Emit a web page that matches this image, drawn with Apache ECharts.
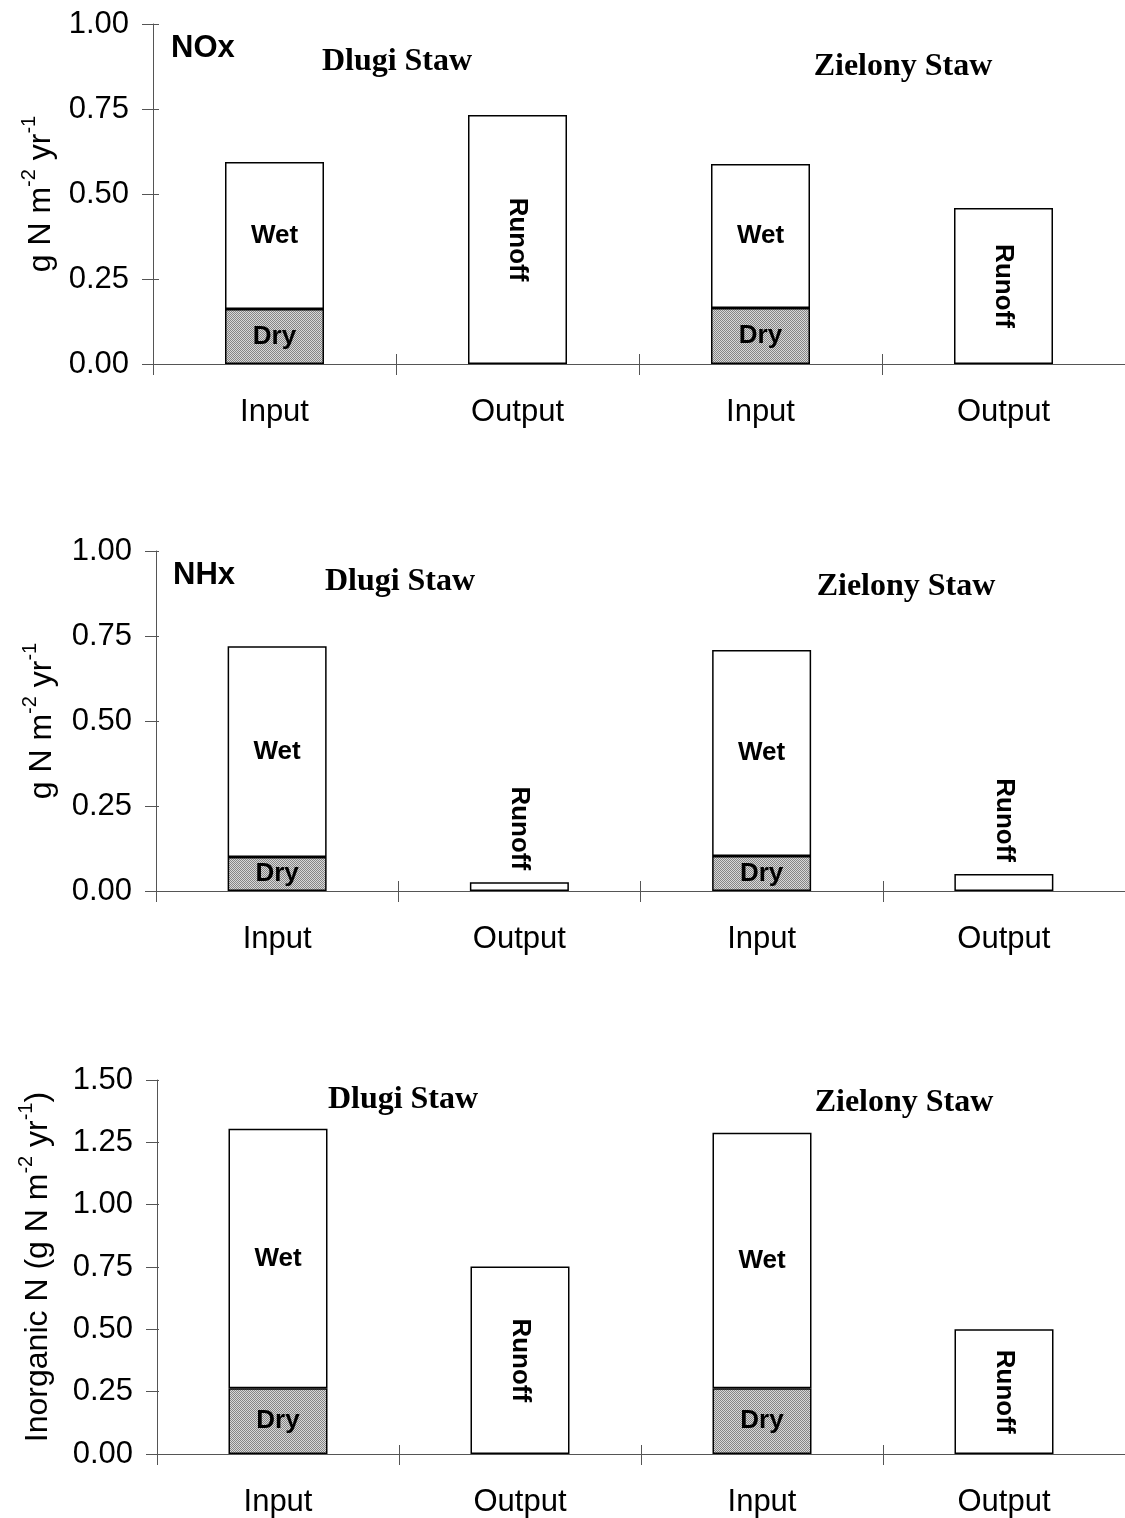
<!DOCTYPE html>
<html>
<head>
<meta charset="utf-8">
<script src="https://cdn.jsdelivr.net/npm/echarts@6/dist/echarts.min.js"></script>
<style>
  html, body { margin: 0; padding: 0; background: #fff; }
  #chart { width: 1125px; height: 1518px; }
</style>
</head>
<body>
<div id="chart"></div>
<script>
// categories on every panel
var categories = ['Input', 'Output', 'Input', 'Output'];

// NOx panel
var noxDry = [0.162, null, 0.165, null];
var noxWet = [0.432, null, 0.423, null];
var noxRunoff = [null, 0.732, null, 0.459];

// NHx panel
var nhxDry = [0.100, null, 0.103, null];
var nhxWet = [0.620, null, 0.606, null];
var nhxRunoff = [null, 0.026, null, 0.050];

// inorganic N panel
var inDry = [0.264, null, 0.264, null];
var inWet = [1.040, null, 1.024, null];
var inRunoff = [null, 0.752, null, 0.500];

var panelNames = ['NOx', 'NHx', ''];
var siteNames = ['Dlugi Staw', 'Zielony Staw'];

// stipple fill for the dry part
var stipple = document.createElement('canvas');
stipple.width = 2; stipple.height = 2;
var sctx = stipple.getContext('2d');
sctx.fillStyle = '#d8d8d8'; sctx.fillRect(0, 0, 2, 2);
sctx.fillStyle = '#858585'; sctx.fillRect(0, 0, 1, 1); sctx.fillRect(1, 1, 1, 1);

var grids = [
  { left: 153, top: 24, width: 976, height: 340 },
  { left: 156, top: 551, width: 976, height: 340 },
  { left: 157, top: 1080, width: 976, height: 375 }
];
var yMax = [1, 1, 1.5];
var yNames = [
  '{n|g N m}{s|-2}{n| yr}{s|-1}',
  '{n|g N m}{s|-2}{n| yr}{s|-1}',
  '{n|Inorganic N (g N m}{s|-2}{n| yr}{s|-1}{n|)}'
];
var nameGaps = [96, 98, 103];

var axisColor = '#555';
var tickFont = { fontFamily: 'Liberation Sans', fontSize: 31, color: '#000' };

var xAxes = [], yAxes = [], series = [];
grids.forEach(function (g, i) {
  // main axes
  xAxes.push({
    type: 'category', gridIndex: i, data: categories, position: 'bottom',
    axisLine: { lineStyle: { color: axisColor, width: 1 } },
    axisTick: { show: true, length: 11, lineStyle: { color: axisColor } },
    axisLabel: Object.assign({ margin: 33 }, tickFont)
  });
  // top-side copy pulled down onto the baseline: its ticks point up, so they cross the line
  xAxes.push({
    type: 'category', gridIndex: i, data: categories, position: 'top', offset: -g.height,
    axisLine: { show: false },
    axisTick: { show: true, length: 10, lineStyle: { color: axisColor } },
    axisLabel: { show: false }
  });
  yAxes.push({
    type: 'value', gridIndex: i, min: 0, max: yMax[i], interval: 0.25, position: 'left',
    splitLine: { show: false },
    axisLine: { show: true, lineStyle: { color: axisColor, width: 1 } },
    axisTick: { show: true, length: 11, lineStyle: { color: axisColor } },
    axisLabel: Object.assign({ margin: 24, formatter: function (v) { return v.toFixed(2); } }, tickFont),
    name: yNames[i], nameLocation: 'middle', nameGap: nameGaps[i],
    nameTextStyle: {
      rich: {
        n: { fontFamily: 'Liberation Sans', fontSize: 32, lineHeight: 38, color: '#000', verticalAlign: 'bottom' },
        s: { fontFamily: 'Liberation Sans', fontSize: 20, lineHeight: 21, color: '#000', verticalAlign: 'top' }
      }
    }
  });
  // right-side copy pulled onto the left line: its ticks point right
  yAxes.push({
    type: 'value', gridIndex: i, min: 0, max: yMax[i], interval: 0.25, position: 'right', offset: -g.width,
    splitLine: { show: false }, axisLine: { show: false },
    axisTick: { show: true, length: 10, lineStyle: { color: axisColor } },
    axisLabel: { show: false }
  });
});

var panelData = [
  [noxDry, noxWet, noxRunoff],
  [nhxDry, nhxWet, nhxRunoff],
  [inDry, inWet, inRunoff]
];
var labelFont = { fontFamily: 'Liberation Sans', fontWeight: 'bold', fontSize: 26, color: '#000' };

panelData.forEach(function (d, i) {
  var common = {
    type: 'bar', xAxisIndex: i * 2, yAxisIndex: i * 2, stack: 'p' + i,
    barWidth: 99, animation: false
  };
  series.push(Object.assign({}, common, {
    name: 'Dry', data: d[0],
    itemStyle: { color: { image: stipple, repeat: 'repeat' }, borderColor: '#000', borderWidth: 1.5 },
    label: Object.assign({ show: true, position: 'inside', formatter: 'Dry' }, labelFont)
  }));
  series.push(Object.assign({}, common, {
    name: 'Wet', data: d[1],
    itemStyle: { color: '#fff', borderColor: '#000', borderWidth: 1.5 },
    label: Object.assign({ show: true, position: 'inside', formatter: 'Wet' }, labelFont)
  }));
  var runoffLabel = i === 1
    ? { show: true, position: 'top', distance: 12, rotate: -90, align: 'right', verticalAlign: 'middle', formatter: 'Runoff' }
    : { show: true, position: 'inside', rotate: -90, formatter: 'Runoff' };
  series.push(Object.assign({}, common, {
    name: 'Runoff', data: d[2],
    itemStyle: { color: '#fff', borderColor: '#000', borderWidth: 1.5 },
    label: Object.assign(runoffLabel, labelFont)
  }));
});

// panel headings
var headPos = [
  { tag: [171, 48], d: [397, 62], z: [903, 67] },
  { tag: [173, 575], d: [400, 582], z: [906, 587] },
  { tag: null, d: [403, 1100], z: [904, 1103] }
];
var graphics = [];
headPos.forEach(function (h, i) {
  if (h.tag) {
    graphics.push({
      type: 'text', x: h.tag[0], y: h.tag[1],
      style: { text: panelNames[i], font: 'bold 31px "Liberation Sans"', fill: '#000', textAlign: 'left', textVerticalAlign: 'middle' }
    });
  }
  graphics.push({
    type: 'text', x: h.d[0], y: h.d[1],
    style: { text: siteNames[0], font: 'bold 32px "Liberation Serif"', fill: '#000', textAlign: 'center', textVerticalAlign: 'middle' }
  });
  graphics.push({
    type: 'text', x: h.z[0], y: h.z[1],
    style: { text: siteNames[1], font: 'bold 32px "Liberation Serif"', fill: '#000', textAlign: 'center', textVerticalAlign: 'middle' }
  });
});

var chart = echarts.init(document.getElementById('chart'));
chart.setOption({
  backgroundColor: '#fff',
  animation: false,
  grid: grids,
  xAxis: xAxes,
  yAxis: yAxes,
  series: series,
  graphic: graphics
});
</script>
</body>
</html>
